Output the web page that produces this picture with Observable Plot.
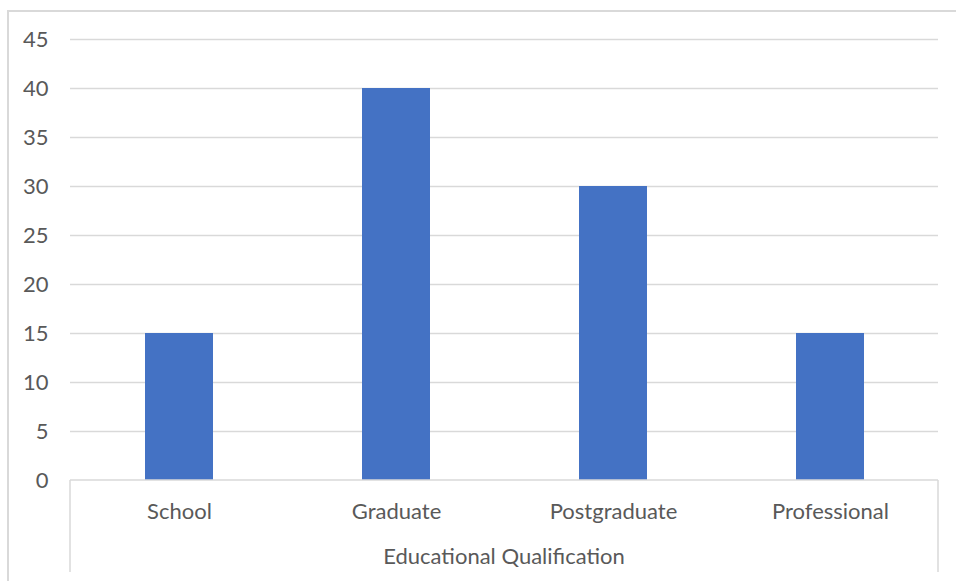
<!DOCTYPE html>
<html>
<head>
<meta charset="utf-8">
<script src="https://cdn.jsdelivr.net/npm/d3@7"></script>
<script src="https://cdn.jsdelivr.net/npm/@observablehq/plot@0.6"></script>
<style>
  html, body { margin: 0; padding: 0; background: #fff; }
  #wrap { position: relative; width: 956px; height: 581px; overflow: hidden; }
  #border { position: absolute; left: 7px; top: 10px; width: 960px; height: 580px;
            border: 2px solid #d9d9d9; box-sizing: border-box; }
  #chart { position: absolute; left: 0; top: 0; }
</style>
</head>
<body>
<div id="wrap">
  <div id="border"></div>
  <div id="chart"></div>
</div>
<script>
// Respondents by educational qualification
const categories = ["School", "Graduate", "Postgraduate", "Professional"];
const counts = [15, 40, 30, 15];
const yTicks = [0, 5, 10, 15, 20, 25, 30, 35, 40, 45];
const axisTitle = "Educational Qualification";

const data = categories.map((c, i) => ({category: c, value: counts[i]}));
const textColor = "#595959";
const lineColor = "#d9d9d9";
const font = "Lato, 'Open Sans', sans-serif";
const fontSize = 22;

// Category axis frame: baseline plus the two outer dividers reaching down past the title
function categoryFrame(index, scales, values, dim) {
  const g = d3.create("svg:g");
  const x0 = dim.marginLeft, x1 = dim.width - dim.marginRight;
  const y0 = dim.height - dim.marginBottom;
  const y1 = y0 + 92;
  g.append("line").attr("x1", x0).attr("x2", x1).attr("y1", y0).attr("y2", y0)
    .attr("stroke", lineColor).attr("stroke-width", 1.5);
  for (const x of [x0, x1]) {
    g.append("line").attr("x1", x).attr("x2", x).attr("y1", y0).attr("y2", y1)
      .attr("stroke", lineColor).attr("stroke-width", 1.5);
  }
  g.append("text").attr("x", (x0 + x1) / 2).attr("y", y0 + 84)
    .attr("text-anchor", "middle").attr("fill", textColor)
    .attr("font-family", font).attr("font-size", fontSize).text(axisTitle);
  return g.node();
}

const plot = Plot.plot({
  width: 956,
  height: 581,
  marginLeft: 70,
  marginRight: 18,
  marginTop: 39,
  marginBottom: 101,
  style: {fontFamily: font, fontSize: fontSize + "px", color: textColor, background: "transparent"},
  x: {domain: categories, paddingInner: 0.687, paddingOuter: 0.3435, label: null},
  y: {domain: [0, 45], label: null},
  marks: [
    Plot.ruleY(yTicks.filter(d => d > 0), {stroke: lineColor, strokeWidth: 1.5}),
    Plot.barY(data, {x: "category", y: "value", fill: "#4472C4"}),
    categoryFrame,
    Plot.axisY({ticks: yTicks, tickSize: 0, tickPadding: 22, label: null,
                fill: textColor, fontSize}),
    Plot.axisX({tickSize: 0, tickPadding: 23, label: null, fill: textColor, fontSize})
  ]
});
document.getElementById("chart").appendChild(plot);
</script>
</body>
</html>
